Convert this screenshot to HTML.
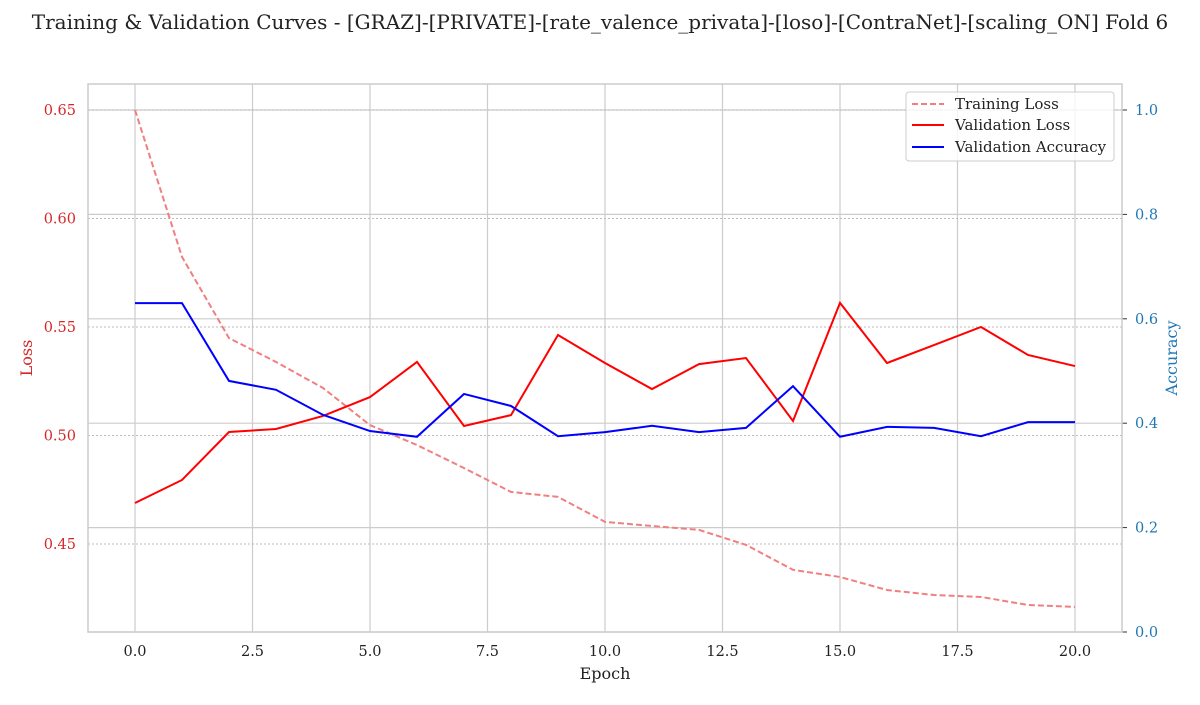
<!DOCTYPE html>
<html><head><meta charset="utf-8"><style>
body{margin:0;background:#fff;}
svg text{font-family:"DejaVu Serif","Liberation Serif",serif;}
</style></head><body>
<svg id="chart" width="1200" height="700" xmlns="http://www.w3.org/2000/svg">
<text x="600" y="29" text-anchor="middle" font-size="20" fill="#222">Training &amp; Validation Curves - [GRAZ]-[PRIVATE]-[rate_valence_privata]-[loso]-[ContraNet]-[scaling_ON] Fold 6</text>
<g id="grid"></g><g id="marks"></g><g id="axes"></g>
<g>
<rect x="906" y="92" width="208" height="69" rx="3" fill="#fff" fill-opacity="0.8" stroke="#ccc"/>
<line x1="912" y1="104" x2="944" y2="104" stroke="#f08080" stroke-width="2" stroke-dasharray="6,3"/>
<text x="955" y="109" font-size="15" fill="#222">Training Loss</text>
<line x1="912" y1="125" x2="944" y2="125" stroke="#ff0000" stroke-width="2"/>
<text x="955" y="130" font-size="15" fill="#222">Validation Loss</text>
<line x1="912" y1="147" x2="944" y2="147" stroke="#0000ff" stroke-width="2"/>
<text x="955" y="152" font-size="15" fill="#222">Validation Accuracy</text>
</g>
</svg>
<script>
const epochs=[0,1,2,3,4,5,6,7,8,9,10,11,12,13,14,15,16,17,18,19,20];
const trainLoss=[0.650,0.5823,0.5449,0.5339,0.5219,0.5048,0.4956,0.4850,0.4740,0.4717,0.4602,0.4583,0.4565,0.4496,0.4381,0.4348,0.4288,0.4265,0.4256,0.4219,0.4210];
const valLoss=[0.4689,0.4795,0.5016,0.5030,0.5090,0.5177,0.5339,0.5044,0.5094,0.5463,0.5334,0.5214,0.5329,0.5357,0.5067,0.5611,0.5334,0.5417,0.5500,0.5371,0.5320];
const valAcc=[0.630,0.630,0.481,0.464,0.416,0.385,0.374,0.456,0.433,0.375,0.383,0.395,0.383,0.391,0.471,0.374,0.393,0.391,0.375,0.402,0.402];
const xTicks=[0,2.5,5,7.5,10,12.5,15,17.5,20];
const lossTicks=[0.45,0.50,0.55,0.60,0.65];
const accTicks=[0,0.2,0.4,0.6,0.8,1.0];
const NS="http://www.w3.org/2000/svg";
const L=88,R=1122,T=84,B=632;
const xs=v=>135+v*47;
const yl=v=>110+(0.65-v)*2170;
const yr=v=>632-v*522;
function mk(tag,at,parent){const e=document.createElementNS(NS,tag);for(const k in at)e.setAttribute(k,at[k]);document.getElementById(parent).appendChild(e);return e;}
xTicks.forEach(t=>{
 const g=mk('line',{x1:xs(t),x2:xs(t),y1:T,y2:B,stroke:'#ccc','stroke-width':1.2},'grid');
 
 
 const tx=mk('text',{x:xs(t),y:656,'text-anchor':'middle','font-size':14.5,fill:'#222'},'axes');
 tx.textContent=t.toFixed(1);
 
 
});
accTicks.forEach(t=>{
 const g=mk('line',{x1:L,x2:R,y1:yr(t),y2:yr(t),stroke:'#ccc','stroke-width':1.2},'grid');
 
 
 mk('line',{x1:R,x2:R+5,y1:yr(t),y2:yr(t),stroke:'#333'},'axes');
 const tx=mk('text',{x:R+13,y:yr(t)+5,'font-size':14.5,fill:'#1f77b4'},'axes');
 tx.textContent=t.toFixed(1);
 
 
});
lossTicks.forEach(t=>{
 const g=mk('line',{x1:L,x2:R,y1:yl(t),y2:yl(t),stroke:'#bbb','stroke-width':1,'stroke-dasharray':'2,2'},'grid');
 
 
 const tx=mk('text',{x:L-12,y:yl(t)+5,'text-anchor':'end','font-size':14.5,fill:'#d62728'},'axes');
 tx.textContent=t.toFixed(2);
 
 
});
function line(vals,ys,st,name){
 const p=mk('polyline',{points:vals.map((v,i)=>xs(epochs[i])+','+ys(v)).join(' '),fill:'none',stroke:st.c,'stroke-width':2,'stroke-dasharray':st.d||'none'},'marks');
 
 
}
line(trainLoss,yl,{c:'#f08080',d:'6,3'},'training-loss-line');
line(valLoss,yl,{c:'#ff0000'},'validation-loss-line');
line(valAcc,yr,{c:'#0000ff'},'validation-accuracy-line');
const fr=mk('rect',{x:L,y:T,width:R-L,height:B-T,fill:'none',stroke:'#ccc','stroke-width':1.5},'axes');


const xl=mk('text',{x:605,y:679,'text-anchor':'middle','font-size':16,fill:'#222'},'axes');
xl.textContent='Epoch';


const ll=mk('text',{x:32,y:358,'text-anchor':'middle','font-size':16,fill:'#d62728',transform:'rotate(-90 32 358)'},'axes');
ll.textContent='Loss';


const rl=mk('text',{x:1177,y:358,'text-anchor':'middle','font-size':16,fill:'#1f77b4',transform:'rotate(-90 1177 358)'},'axes');
rl.textContent='Accuracy';


</script>
</body></html>
